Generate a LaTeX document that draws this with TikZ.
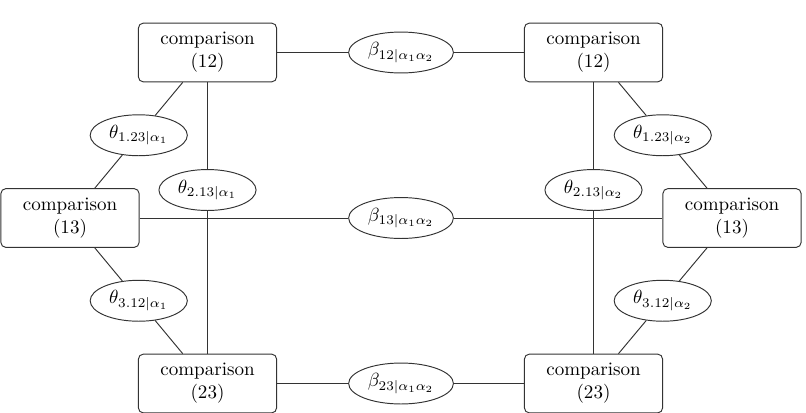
\documentclass[tikz,border=0pt]{standalone}
\usetikzlibrary{shapes.geometric,calc}
\begin{document}
\begin{tikzpicture}[x=0.525pt,y=-0.525pt,
  cbox/.style={draw=black!80,line width=0.5pt,rounded corners=2.5pt,minimum width=72.5pt,minimum height=30.8pt,align=center,inner sep=0pt},
  par/.style={draw=black!80,line width=0.5pt,ellipse,minimum width=51pt,minimum height=21.5pt,inner sep=0pt},
  bpar/.style={par,minimum width=55pt},
  link/.style={draw=black!80,line width=0.5pt}]
\useasboundingbox (0,0) rectangle (806,412);
\node[cbox] (TL) at (207.5,52.5) {comparison\\(12)};
\node[cbox] (TR) at (593.5,52.5) {comparison\\(12)};
\node[cbox] (L) at (70,218) {comparison\\(13)};
\node[cbox] (R) at (732,218) {comparison\\(13)};
\node[cbox] (BL) at (207.5,383.5) {comparison\\(23)};
\node[cbox] (BR) at (593.5,383.5) {comparison\\(23)};
\node[bpar] (b12) at (401,52.5) {$\beta_{12|\alpha_1\alpha_2}$};
\node[bpar] (b13) at (401,218) {$\beta_{13|\alpha_1\alpha_2}$};
\node[bpar] (b23) at (401,383.5) {$\beta_{23|\alpha_1\alpha_2}$};
\node[par] (t1a) at ($(TL)!0.5!(L)$) {$\theta_{1.23|\alpha_1}$};
\node[par] (t3a) at ($(L)!0.5!(BL)$) {$\theta_{3.12|\alpha_1}$};
\node[par] (t2a) at (207.5,190) {$\theta_{2.13|\alpha_1}$};
\node[par] (t1b) at ($(TR)!0.5!(R)$) {$\theta_{1.23|\alpha_2}$};
\node[par] (t3b) at ($(R)!0.5!(BR)$) {$\theta_{3.12|\alpha_2}$};
\node[par] (t2b) at (593.5,190) {$\theta_{2.13|\alpha_2}$};
\draw[link] (TL) -- (b12) -- (TR);
\draw[link] (L) -- (b13) -- (R);
\draw[link] (BL) -- (b23) -- (BR);
\draw[link] (TL) -- (t1a) -- (L);
\draw[link] (L) -- (t3a) -- (BL);
\draw[link] (TL) -- (t2a) -- (BL);
\draw[link] (TR) -- (t1b) -- (R);
\draw[link] (R) -- (t3b) -- (BR);
\draw[link] (TR) -- (t2b) -- (BR);
\end{tikzpicture}
\end{document}
